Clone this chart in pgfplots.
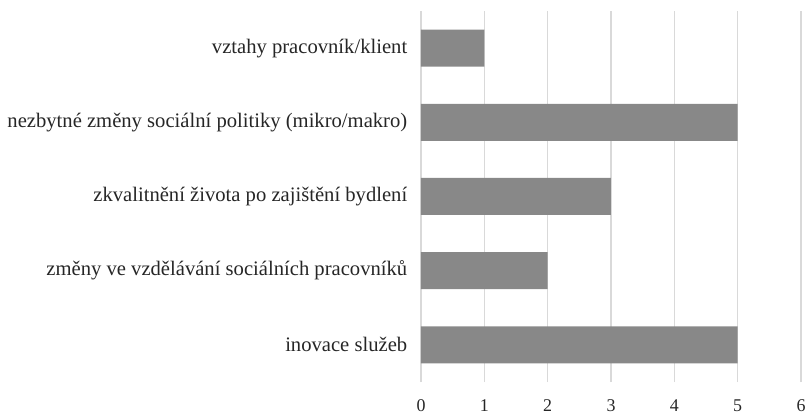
\documentclass[border=0pt]{standalone}
\usepackage{pgfplots}
\pgfplotsset{compat=1.18}
\usepackage{fontspec}
\setmainfont{Liberation Serif}
\definecolor{barc}{RGB}{136,136,136}
\definecolor{gridc}{RGB}{217,217,217}
\begin{document}
\begin{tikzpicture}
\path[use as bounding box] (-421bp,-35bp) rectangle (386bp,382bp);
\begin{axis}[
  scale only axis,
  width=380bp, height=371bp,
  xbar, bar width=37bp,
  xmin=0, xmax=6, ymin=-0.5, ymax=4.5,
  xtick={0,1,2,3,4,5,6},
  ytick={0,1,2,3,4},
  yticklabels={inovace služeb, změny ve vzdělávání sociálních pracovníků, zkvalitnění života po zajištění bydlení, nezbytné změny sociální politiky (mikro/makro), vztahy pracovník/klient},
  xmajorgrids, major grid style={gridc, line width=1.2bp},
  axis line style={draw=none},
  tick style={draw=none},
  yticklabel style={font=\fontsize{20.7}{24}\selectfont, text=black!85, xshift=-6bp},
  xticklabel style={font=\fontsize{18}{21}\selectfont, text=black!85, yshift=-14bp},
  /pgf/number format/assume math mode=true,
  clip=false,
]
\addplot[fill=barc, draw=none] coordinates {(5,0) (2,1) (3,2) (5,3) (1,4)};
\end{axis}
\end{tikzpicture}
\end{document}
